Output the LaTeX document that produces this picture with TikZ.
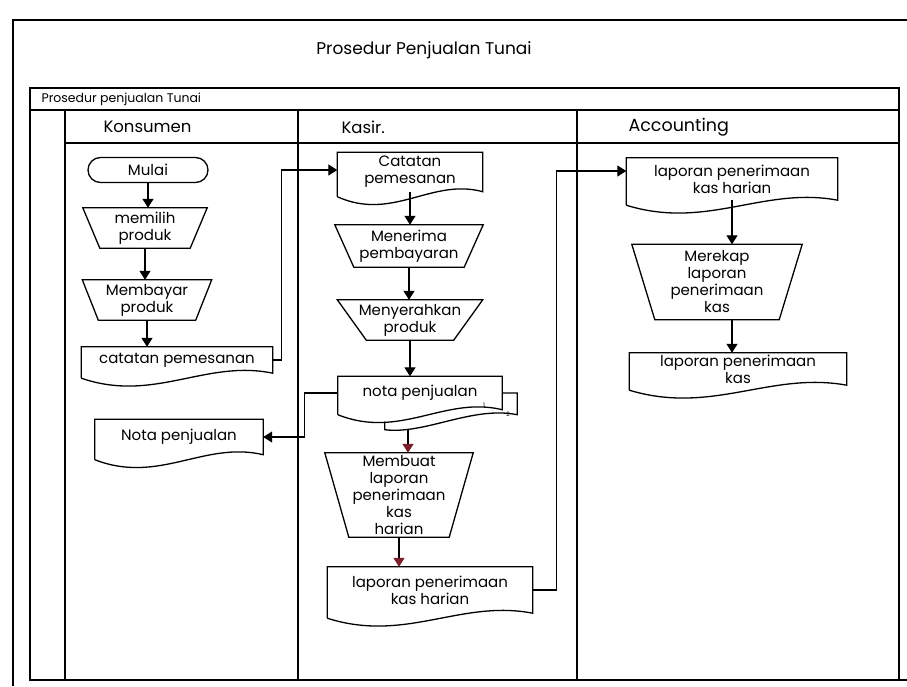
\documentclass[tikz,border=0pt]{standalone}
\usepackage{fontspec}
\setmainfont{Poppins}
\usetikzlibrary{arrows.meta,calc}

\definecolor{tipred}{RGB}{120,30,45}

% trapezoid (manual operation) around a named node: #1 node, #2 inset of the bottom edge
\newcommand\trapbox[2]{%
  \draw[shapeline] (#1.north west) -- (#1.north east)
    -- ([xshift=-#2]#1.south east) -- ([xshift=#2]#1.south west) -- cycle;}
% document symbol around a named node, wavy bottom edge lower on the left
\newcommand\docbox[1]{%
  \draw[shapeline] ($(#1.south west)+(0,5)$) -- (#1.north west) -- (#1.north east) -- (#1.south east)
    .. controls ($(#1.south east)!0.35!(#1.south west)+(0,-14)$)
       and ($(#1.south east)!0.62!(#1.south west)+(0,30)$) .. ($(#1.south west)+(0,5)$);}

\begin{document}
\begin{tikzpicture}[x=1pt,y=-1pt,
  frame/.style={line width=1.1pt,black},
  shapeline/.style={line width=1.3pt,black},
  flow/.style={line width=1.3pt,-{Triangle[width=11pt,length=9pt]}},
  redflow/.style={line width=1.3pt,-{Triangle[width=11pt,length=9pt,color=tipred]}},
  box/.style={rectangle,inner sep=0pt,align=center,font=\fontsize{15}{17}\selectfont},
  lanetitle/.style={anchor=west,font=\fontsize{16.5}{19}\selectfont},
  tiny/.style={font=\fontsize{6}{7}\selectfont,inner sep=0pt},
]
\useasboundingbox[fill=white] (0,0) rectangle (907,686);

% page frame and swimlane table
\draw[frame] (907,20) -- (13,20) -- (13,686);
\draw[frame] (30,88) rectangle (899,680);
\draw[frame] (899,680) -- (907,680);
\draw[frame] (30,110) -- (899,110);
\draw[frame] (65,110) -- (65,680);
\draw[frame] (298,110) -- (298,680);
\draw[frame] (577,110) -- (577,680);
\draw[frame] (65,143) -- (899,143);

% headings
\node[font=\fontsize{17}{19}\selectfont] (title) at (424,50) {Prosedur Penjualan Tunai};
\node[anchor=west,font=\fontsize{12.5}{14}\selectfont] (head) at (38,99) {Prosedur penjualan Tunai};
\node[lanetitle] (konsumen) at (100,127) {Konsumen};
\node[lanetitle] (kasir) at (338,127) {Kasir.};
\node[lanetitle,font=\fontsize{17.5}{19}\selectfont] (acc) at (625,127) {Accounting};

% Konsumen
\node[box,draw,shapeline,rounded corners=12.5pt,minimum width=120pt,minimum height=25pt] (mulai) at (148,170) {Mulai};
\node[box,minimum width=124pt,minimum height=40pt] (pilih) at (145,228) {memilih\\produk};
\node[box,minimum width=129pt,minimum height=40pt] (bayar) at (147,300) {Membayar\\produk};
\node[box,minimum width=191pt,minimum height=26pt] (catK) at (177,360) {catatan pemesanan};
\node[box,minimum width=168pt,minimum height=35pt] (notaK) at (179,437) {Nota penjualan};

% Kasir
\node[box,minimum width=145pt,minimum height=39pt] (catS) at (410,172) {Catatan\\pemesanan};
\node[box,minimum width=148pt,minimum height=42pt] (terima) at (409,246) {Menerima\\pembayaran};
\node[box,minimum width=145pt,minimum height=40pt] (serah) at (410,320) {Menyerahkan\\produk};
\node[box,minimum width=164pt,minimum height=33pt] (notaS) at (420,393) {nota penjualan};
\node[tiny] (c1) at (484,405) {1};
\node[tiny] (c2) at (508,414) {2};
\node[box,minimum width=148pt,minimum height=84pt] (buat) at (399,495) {Membuat\\laporan\\penerimaan\\kas\\harian};
\node[box,minimum width=205pt,minimum height=46pt] (lapS) at (430,590) {laporan penerimaan\\kas harian};

% Accounting
\node[box,minimum width=211pt,minimum height=42pt] (lapA1) at (732,179) {laporan penerimaan\\kas harian};
\node[box,minimum width=170pt,minimum height=75pt] (rekap) at (717,282) {Merekap\\laporan\\penerimaan\\kas};
\node[box,minimum width=217pt,minimum height=32pt] (lapA2) at (738,369) {laporan penerimaan\\kas};

% symbol outlines
\trapbox{pilih}{17pt}
\trapbox{bayar}{16pt}
\trapbox{terima}{19pt}
\trapbox{serah}{29pt}
\trapbox{buat}{24pt}
\trapbox{rekap}{23pt}
\docbox{catK}
\docbox{notaK}
\docbox{catS}
\docbox{notaS}
\docbox{lapS}
\docbox{lapA1}
\docbox{lapA2}
% second copy behind the sales note
\draw[shapeline] (notaS.east) -- ++(15,0) -- ($(notaS.south east)+(15,5)$)
  .. controls ($(notaS.south east)+(-30,-4)$) and ($(notaS.south)+(5,25)$)
  .. ($(notaS.south west)+(47,20)$) -- ($(notaS.south west)+(47,12)$);

% flow
\draw[flow] (mulai.south) -- (mulai.south |- pilih.north);
\draw[flow] (pilih.south) -- (pilih.south |- bayar.north);
\draw[flow] (bayar.south) -- (bayar.south |- catK.north);
\draw[flow] (catK.east) -- ++(9,0) |- ([yshift=2pt]catS.west);
\draw[flow] (catS.south) -- (catS.south |- terima.north);
\draw[flow] (terima.south) -- (terima.south |- serah.north);
\draw[flow] (serah.south) -- (serah.south |- notaS.north);
\coordinate (split) at ($(notaS.west)+(-33,0)$);
\draw[flow] (notaS.west) -- (split) |- (notaK.east);
\coordinate (notaout) at ($(notaS.south)+(-12,19)$);
\draw[redflow] (notaout) -- (notaout |- buat.north);
\draw[redflow] (buat.south) -- (buat.south |- lapS.north);
\draw[flow] (lapS.east) -- ++(24,0) |- ([yshift=8pt]lapA1.west);
\draw[flow] (lapA1.south) -- (lapA1.south |- rekap.north);
\draw[flow] (rekap.south -| lapA1.south) -- (lapA1.south |- lapA2.north);
\end{tikzpicture}
\end{document}
